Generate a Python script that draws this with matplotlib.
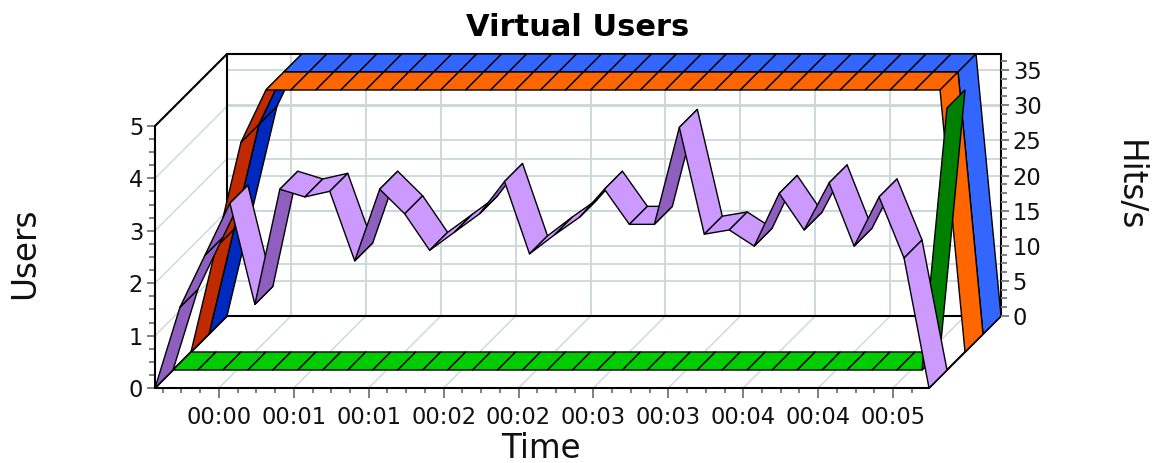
import matplotlib
matplotlib.use('Agg')
import matplotlib.pyplot as plt

plt.rcParams['font.family'] = ['DejaVu Sans']

# series, one value per sample
users_orange = [0, 2, 4, 5, 5, 5, 5, 5, 5, 5, 5, 5, 5, 5, 5, 5, 5, 5, 5, 5, 5, 5, 5, 5, 5, 5, 5, 5, 5, 5, 5, 0]
users_blue = [0, 2, 4, 5, 5, 5, 5, 5, 5, 5, 5, 5, 5, 5, 5, 5, 5, 5, 5, 5, 5, 5, 5, 5, 5, 5, 5, 5, 5, 5, 5, 0]
users_green = [0, 0, 0, 0, 0, 0, 0, 0, 0, 0, 0, 0, 0, 0, 0, 0, 0, 0, 0, 0, 0, 0, 0, 0, 0, 0, 0, 0, 0, 0, 0, 5]
hits_purple = [0, 11.5, 18.9, 26.3, 11.9, 28.3, 27.2, 28.0, 18.1, 28.3, 24.8, 19.6, 22.2, 24.8, 29.4, 19.1,
               21.8, 24.3, 28.3, 23.3, 23.3, 37.1, 21.9, 22.5, 20.2, 27.7, 22.5, 29.2, 20.2, 27.2, 18.5, 0]

time_ticks = [2.56, 5.56, 8.56, 11.56, 14.56, 17.56, 20.56, 23.56, 26.56, 29.56]
time_labels = ['00:00', '00:01', '00:01', '00:02', '00:02', '00:03', '00:03', '00:04', '00:04', '00:05']
time_minor = [0.31, 1.06, 1.81, 3.31, 4.06, 4.81, 6.31, 7.06, 7.81, 9.31, 10.06, 10.81, 12.31, 13.06, 13.81,
              15.31, 16.06, 16.81, 18.31, 19.06, 19.81, 21.31, 22.06, 22.81, 24.31, 25.06, 25.81, 27.31,
              28.06, 28.81, 30.31]
user_ticks = [0, 1, 2, 3, 4, 5]
hit_ticks = [0, 5, 10, 15, 20, 25, 30, 35]
users_max = 5
hits_max = 37.3

W, H = 1152, 463
LEFT, BASE, PLOT_W, PLOT_H = 155, 388, 774, 262
DEPTH = 72  # pixels the chart goes back, both ways
ROWS = 4

fig = plt.figure(figsize=(W / 100, H / 100), dpi=100)
ax = fig.add_axes([LEFT / W, (H - BASE) / H, PLOT_W / W, PLOT_H / H])
ax.set_xlim(0, 31)
ax.set_ylim(0, users_max)
ax.autoscale(False)

# depth in data units of the front axes
dx = DEPTH / PLOT_W * 31
dy = DEPTH / PLOT_H * users_max

grid_col = '#c9d8da'
tick_col = '#808080'


def line(xs, ys, col='black', lw=1.5, z=2):
    ax.plot(xs, ys, color=col, lw=lw, clip_on=False, zorder=z, solid_capstyle='round')


# walls: grid first
for t in time_ticks:
    line([t, t + dx], [0, dy], grid_col, 1.0, 1)
    line([t + dx, t + dx], [dy, dy + users_max], grid_col, 1.3, 1)
for u in user_ticks[1:]:
    line([0, dx], [u, u + dy], grid_col, 1.0, 1)
    line([dx, 31 + dx], [u + dy, u + dy], grid_col, 1.3, 1)
for h in hit_ticks[1:]:
    v = h * users_max / hits_max
    line([dx, 31 + dx], [v + dy, v + dy], grid_col, 1.3, 1)

# frame
line([0, 31], [0, 0])
line([0, 0], [0, users_max])
line([0, dx], [0, dy])
line([0, dx], [users_max, users_max + dy])
line([31, 31 + dx], [0, dy])
line([dx, dx], [dy, dy + users_max])
line([dx, 31 + dx], [dy, dy])
line([dx, 31 + dx], [dy + users_max, dy + users_max])
line([31 + dx, 31 + dx], [dy, dy + users_max])


def ribbon(values, row, light, dark):
    x0 = row * dx / ROWS
    y0 = row * dy / ROWS
    step = dx / ROWS
    rise = dy / ROWS
    for i in range(len(values) - 1):
        a, b = values[i], values[i + 1]
        # underside shows when steeper than the depth direction on screen
        steep = (b - a) / users_max * PLOT_H > PLOT_W / 31
        ax.fill([i + x0, i + 1 + x0, i + 1 + x0 + step, i + x0 + step],
                [a + y0, b + y0, b + y0 + rise, a + y0 + rise],
                facecolor=dark if steep else light, edgecolor='black', lw=1.0,
                clip_on=False, zorder=3, joinstyle='round')


ribbon(users_blue, 3, '#3366ff', '#0029bf')
ribbon(users_orange, 2, '#ff6600', '#c02a00')
ribbon(users_green, 1, '#00cc00', '#008000')
ribbon([h * users_max / hits_max for h in hits_purple], 0, '#cc99ff', '#8f5fbf')

for s in ax.spines.values():
    s.set_visible(False)
ax.patch.set_visible(False)
ax.set_xticks(time_ticks)
ax.set_xticklabels(time_labels)
ax.set_xticks(time_minor, minor=True)
ax.set_yticks(user_ticks)
ax.set_yticks([u + k / 4 for u in user_ticks[:-1] for k in (1, 2, 3)], minor=True)
ax.tick_params(axis='x', which='major', length=7, width=1.4, color=tick_col, labelsize=16.3, labelcolor='#111111', pad=6)
ax.tick_params(axis='x', which='minor', length=3.5, width=1.4, color=tick_col)
ax.tick_params(axis='y', which='major', length=5.5, width=1.4, color=tick_col, labelsize=16.3, labelcolor='#111111', pad=3)
ax.tick_params(axis='y', which='minor', length=4, width=1.4, color=tick_col)

# right axis sits on the back wall
ax2 = fig.add_axes([(LEFT + DEPTH) / W, (H - BASE + DEPTH) / H, PLOT_W / W, PLOT_H / H])
ax2.set_xlim(0, 31)
ax2.set_ylim(0, hits_max)
ax2.patch.set_visible(False)
for s in ax2.spines.values():
    s.set_visible(False)
ax2.set_xticks([])
ax2.yaxis.tick_right()
ax2.set_yticks(hit_ticks)
ax2.set_yticks([h + k for h in hit_ticks for k in (1.25, 2.5, 3.75) if h + k < hits_max], minor=True)
ax2.tick_params(axis='y', which='major', length=5.5, width=1.4, color=tick_col, labelsize=16.3, pad=3, labelcolor='#111111')
ax2.tick_params(axis='y', which='minor', length=4, width=1.4, color=tick_col)

fig.text(578 / W, 1 - 27 / H, 'Virtual Users', ha='center', va='center', fontsize=22, fontweight='bold', color='black')
fig.text(541 / W, 1 - 448 / H, 'Time', ha='center', va='center', fontsize=23.5, color='#111111')
fig.text(25 / W, 1 - 253 / H, 'Users', ha='center', va='center', rotation=90, fontsize=23.5, color='#111111')
fig.text(1129 / W, 1 - 186 / H, 'Hits/s', ha='center', va='center', rotation=270, fontsize=23.5, color='#111111')

fig.savefig('out.png', dpi=100)
